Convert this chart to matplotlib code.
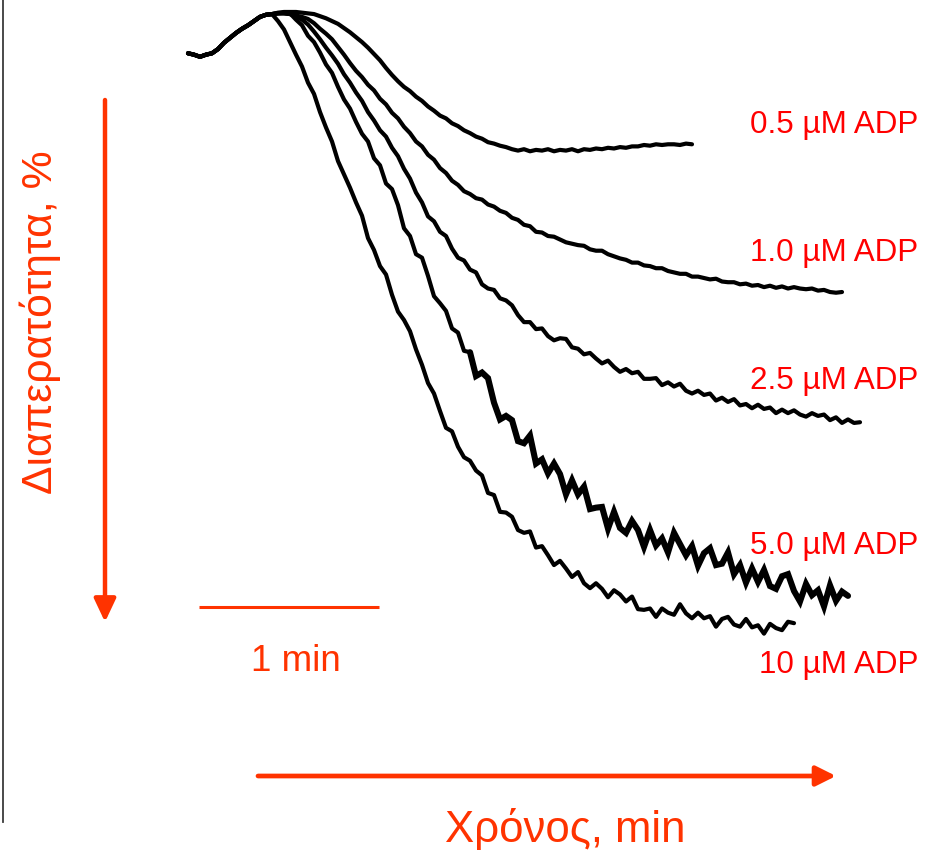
import matplotlib
matplotlib.use("Agg")
import matplotlib.pyplot as plt
import numpy as np
from matplotlib.lines import Line2D

plt.rcParams["font.family"] = ["Liberation Sans", "DejaVu Sans"]

# aggregometer traces: light transmission (%) sampled every 2 s
SAMPLE_STEP_S = 2

# shared pre-addition segment, t = 0 ... 28 s
BASELINE = [5.9, 6.1, 6.4, 6.1, 5.9, 5.3, 4.4, 3.7, 3.0, 2.4, 1.9, 1.3, 0.7, 0.4, 0.3]

# each trace continues from t = 30 s
ADP_0_5 = [
    0.1, 0.0, 0.0, 0.0, 0.1, 0.2, 0.3, 0.6, 0.9, 1.3, 1.7, 2.3, 2.9, 3.6, 4.3, 5.1,
    6.0, 6.9, 8.0, 9.0, 9.9, 10.7, 11.3, 12.1, 12.7, 13.5, 14.1, 14.8, 15.2, 15.9,
    16.3, 16.9, 17.3, 17.8, 18.1, 18.6, 18.8, 19.1, 19.3, 19.6, 19.8, 19.6, 19.9,
    19.7, 19.8, 19.6, 19.9, 19.7, 19.8, 19.6, 19.9, 19.6, 19.7, 19.5, 19.6, 19.4,
    19.5, 19.3, 19.4, 19.2, 19.2, 19.0, 19.1, 18.9, 19.0, 18.9, 18.9, 19.0, 18.8,
    18.9,
]
ADP_1_0 = [
    0.2, 0.2, 0.3, 0.5, 0.7, 1.0, 1.6, 2.4, 3.1, 3.9, 5.0, 6.1, 7.3, 8.4, 9.3, 10.4,
    11.2, 12.4, 13.2, 14.4, 15.2, 16.4, 17.3, 18.5, 19.2, 20.4, 21.1, 22.3, 23.0,
    24.1, 24.7, 25.6, 26.0, 26.6, 26.8, 27.5, 27.8, 28.4, 28.7, 29.4, 29.7, 30.4,
    30.6, 31.4, 31.5, 32.0, 32.1, 32.5, 32.9, 33.1, 33.3, 33.4, 33.9, 34.1, 34.1,
    34.6, 34.9, 35.2, 35.4, 35.8, 35.8, 36.2, 36.3, 36.6, 36.6, 37.0, 37.2, 37.4,
    37.4, 37.8, 37.8, 38.0, 38.2, 38.1, 38.5, 38.6, 38.6, 38.9, 38.8, 39.1, 39.0,
    39.3, 39.1, 39.4, 39.2, 39.5, 39.3, 39.5, 39.6, 39.5, 39.8, 39.7, 40.0, 40.1,
    40.0,
]
ADP_2_5 = [
    0.2, 0.2, 0.3, 0.6, 1.1, 1.8, 2.8, 3.9, 5.1, 6.2, 7.4, 8.9, 10.1, 11.5, 12.7,
    14.3, 15.5, 16.9, 17.8, 19.4, 20.6, 22.4, 23.8, 25.8, 27.2,
    29.2, 29.9, 31.4, 32.0, 33.8, 35.1, 35.5, 36.8, 37.2, 38.9, 39.5, 39.7, 40.9,
    41.2, 41.9, 43.3, 44.3, 44.3, 45.3, 45.2, 46.3, 46.9, 46.6, 46.7, 47.9, 48.1,
    48.9, 48.7, 49.5, 50.2, 49.8, 50.7, 51.4, 51.0, 51.6, 51.4, 52.4, 52.4, 52.3,
    53.3, 52.9, 53.5, 53.1, 54.1, 54.5, 54.1, 54.7, 54.5, 55.5, 55.1, 55.7, 55.3,
    56.2, 56.0, 56.6, 56.1, 56.7, 56.5, 57.3, 56.8, 57.3, 56.9, 57.5, 57.8, 57.3,
    57.7, 57.5, 58.3, 57.9, 58.7, 58.2, 58.7, 58.6,
]
ADP_5_0 = [
    0.2, 0.1, 0.2, 1.1, 1.9, 3.4, 4.3, 5.8, 7.5, 8.7, 10.7, 12.5, 13.8, 15.7, 17.4,
    18.5, 20.9, 21.9, 24.5, 25.3, 27.6, 30.9, 32.0, 34.6, 35.1, 37.7, 40.6, 41.6,
    42.7, 45.2, 45.8, 48.4, 48.6,
    52.0, 51.5, 52.3, 55.8, 58.2, 57.7, 58.3, 61.3, 61.6, 60.5, 64.5, 63.9, 65.9,
    64.5, 66.0, 68.9, 66.9, 68.9, 67.8, 71.0, 70.8, 70.7, 73.8, 71.4, 73.7, 74.4,
    72.7, 74.0, 76.4, 74.0, 76.2, 75.2, 77.2, 74.4, 76.0, 77.6, 76.3, 79.1, 77.3,
    76.6, 79.0, 78.8, 77.2, 80.3, 79.0, 81.5, 79.5, 81.4, 79.7, 82.0, 82.4, 80.6,
    80.3, 82.7, 84.2, 81.7, 83.3, 82.6, 84.9, 81.9, 84.1, 82.8, 83.4,
]
ADP_10 = [
    1.3, 2.5, 4.3, 6.1, 7.8, 10.1, 11.7, 14.3, 16.5, 18.5, 21.3, 23.2, 25.1, 27.2,
    29.1, 32.3, 34.0, 36.3, 37.5, 40.4, 42.8, 44.0, 45.6, 48.2, 50.4, 53.0, 54.5,
    57.0, 59.4, 59.9, 62.1, 63.6, 64.1, 65.5, 66.2,
    68.7, 69.0, 71.4, 71.5, 72.1, 74.0, 74.4, 74.2, 76.5, 76.3, 77.6, 79.0, 78.4,
    79.5, 80.7, 80.0, 81.6, 82.3, 81.6, 82.4, 83.6, 82.6, 83.2, 84.2, 83.5, 85.3,
    85.4, 85.2, 86.4, 85.2, 85.8, 86.1, 84.6, 85.9, 86.6, 85.8, 86.6, 86.3, 87.8,
    86.7, 86.4, 87.5, 87.8, 86.7, 87.9, 87.6, 88.8, 87.4, 88.0, 88.3, 87.1, 87.3,
]

TRACES = [ADP_0_5, ADP_1_0, ADP_2_5, ADP_5_0, ADP_10]
TRACE_WIDTHS = [3.0, 3.0, 3.0, 3.0, 3.0]
# the 5 µM recording gets much noisier after ~95 s
NOISY_FROM_S = 94
NOISY_WIDTH = 4.4

LABELS = ["0.5 µM ADP", "1.0 µM ADP", "2.5 µM ADP", "5.0 µM ADP", "10 µM ADP"]
LABEL_BASELINES_PX = [133, 261, 389, 554, 673]

SCALE_BAR_S = 60
RED = "#ff0000"
ORANGE = "#ff3300"

W, H = 929, 850

fig = plt.figure(figsize=(W / 100, H / 100), dpi=100)
ax = fig.add_axes([0, 0, 1, 1])
ax.set_xlim(-62.67, 247.0)
ax.set_ylim(119.7, -1.71)
ax.axis("off")

for values, lw in zip(TRACES, TRACE_WIDTHS):
    y = np.array(BASELINE + values)
    t = SAMPLE_STEP_S * np.arange(len(y))
    ax.plot(t, y, color="black", lw=lw, solid_joinstyle="round", solid_capstyle="round")
    if values is ADP_5_0:
        keep = t >= NOISY_FROM_S
        ax.plot(t[keep], y[keep], color="black", lw=NOISY_WIDTH,
                solid_joinstyle="miter", solid_capstyle="round")

for label, base in zip(LABELS, LABEL_BASELINES_PX):
    fig.text(918 / W, 1 - base / H, label, color=RED, fontsize=22.6,
             ha="right", va="baseline")

# 1 min scale bar
ax.plot([3.5, 3.5 + SCALE_BAR_S], [85.0, 85.0], color=ORANGE, lw=2.2,
        solid_capstyle="butt")
fig.text(296 / W, 1 - 671 / H, "1 min", color=ORANGE, fontsize=26.5,
         ha="center", va="baseline")

# axis arrows
ax.annotate("", xy=(105, H - 622), xytext=(105, H - 100), xycoords="figure pixels",
            arrowprops=dict(arrowstyle="-|>,head_length=0.7,head_width=0.33",
                            mutation_scale=20, lw=3.2, color=ORANGE,
                            shrinkA=0, shrinkB=0))
ax.annotate("", xy=(836, H - 776), xytext=(258, H - 776), xycoords="figure pixels",
            arrowprops=dict(arrowstyle="-|>,head_length=0.6,head_width=0.3",
                            mutation_scale=20, lw=3.4, color=ORANGE,
                            shrinkA=0, shrinkB=0))

fig.text(40 / W, 1 - 322 / H, "Διαπερατότητα, %", color=ORANGE, fontsize=30.8,
         rotation=90, ha="center", va="center")
fig.text(565 / W, 1 - 842 / H, "Χρόνος, min", color=ORANGE, fontsize=31.5,
         ha="center", va="baseline")

# thin frame line on the left edge
fig.add_artist(Line2D([3 / W, 3 / W], [1 - 822 / H, 1], transform=fig.transFigure,
                      color="#3a3a3a", lw=1.3))

fig.savefig("out.png", dpi=100)
